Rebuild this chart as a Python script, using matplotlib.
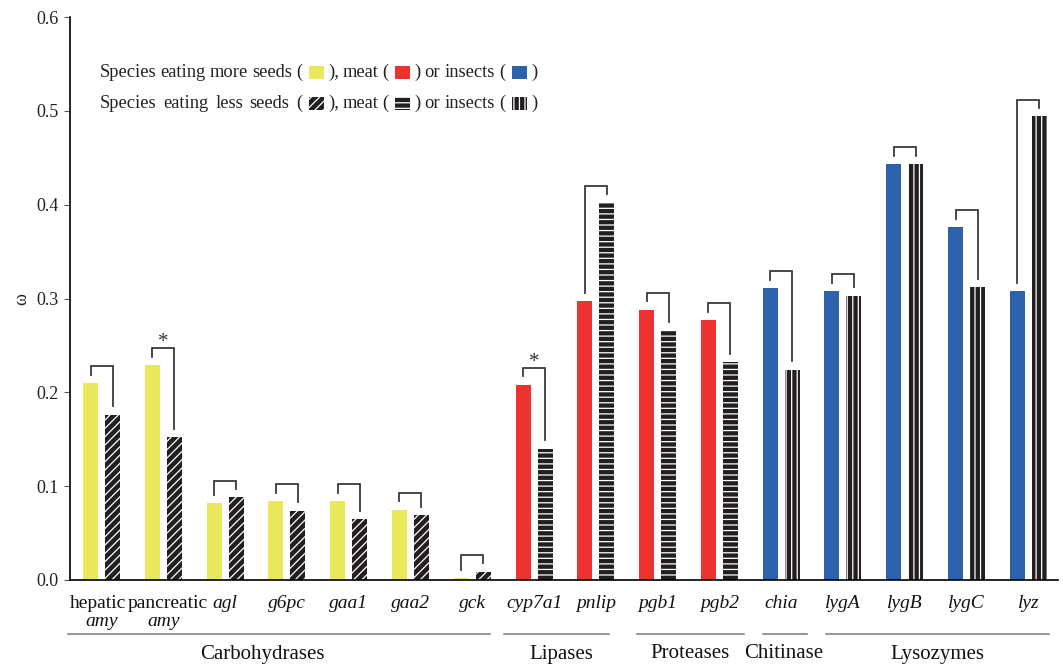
import matplotlib
matplotlib.use("Agg")
import matplotlib.pyplot as plt
from matplotlib.patches import Rectangle
import numpy as np

plt.rcParams['font.family'] = ['Liberation Serif', 'DejaVu Serif']
plt.rcParams['hatch.linewidth'] = 0.9

# ---------------- data ----------------
genes = ['hepatic amy', 'pancreatic amy', 'agl', 'g6pc', 'gaa1', 'gaa2', 'gck',
         'cyp7a1', 'pnlip', 'pgb1', 'pgb2', 'chia', 'lygA', 'lygB', 'lygC', 'lyz']
diet = ['seeds'] * 7 + ['meat'] * 4 + ['insects'] * 5
more_vals = [0.210, 0.229, 0.082, 0.084, 0.084, 0.075, 0.002,
             0.208, 0.297, 0.288, 0.277,
             0.311, 0.308, 0.443, 0.376, 0.308]
less_vals = [0.176, 0.152, 0.088, 0.074, 0.065, 0.069, 0.009,
             0.140, 0.402, 0.266, 0.232,
             0.224, 0.303, 0.443, 0.312, 0.494]
significant = [False, True, False, False, False, False, False,
               True, False, False, False,
               False, False, False, False, False]
enzyme_groups = ['Carbohydrases', 'Lipases', 'Proteases', 'Chitinase', 'Lysozymes']
y_ticks = [0.0, 0.1, 0.2, 0.3, 0.4, 0.5, 0.6]
y_label = 'ω'
legend_more = ['Species eating more seeds (', '), meat (', ') or insects (', ')']
legend_less = ['Species eating less seeds (', '), meat (', ') or insects (', ')']

# ---------------- style ----------------
diet_color = {'seeds': '#E8E85A', 'meat': '#EE3131', 'insects': '#2C62AC'}
diet_hatch = {'seeds': '////', 'meat': '---', 'insects': '|||'}
dark = '#231F20'
bracket_color = '#3a3a3a'

W, H = 1063, 664
fig = plt.figure(figsize=(W / 100, H / 100), dpi=100)
ax = fig.add_axes([70 / W, 1 - 580 / H, 988 / W, 563 / H])

x = np.arange(len(genes))
off, bw = 0.178, 0.243
for i in range(len(genes)):
    d = diet[i]
    ax.bar(x[i] - off, more_vals[i], width=bw, color=diet_color[d], linewidth=0)
    ax.bar(x[i] + off, less_vals[i], width=bw, color=dark, hatch=diet_hatch[d],
           edgecolor='white', linewidth=0)
    top = max(more_vals[i], less_vals[i]) + 0.018
    ax.plot([x[i] - off, x[i] - off, x[i] + off, x[i] + off],
            [more_vals[i] + 0.009, top, top, less_vals[i] + 0.009],
            color=bracket_color, lw=1.3, solid_joinstyle='miter')
    if significant[i]:
        ax.text(x[i], top + 0.001, '*', ha='center', va='baseline',
                fontsize=15, color='#333333')

ax.set_xlim(-0.51, 15.48)
ax.set_ylim(0, 0.6)
ax.set_yticks(y_ticks)
ax.set_yticklabels([f'{v:.1f}' for v in y_ticks], fontsize=13, color='#222222')
ax.tick_params(axis='y', length=4, width=0.8, color='#555555', pad=4)
ax.set_xticks([])
for s in ['top', 'right']:
    ax.spines[s].set_visible(False)
for s in ['left', 'bottom']:
    ax.spines[s].set_linewidth(1.2)
    ax.spines[s].set_color('black')

fig.text(22 / W, 1 - 299 / H, y_label, rotation=90, ha='center', va='center',
         fontsize=13, color='#222222')

# gene labels
xt = ax.get_xaxis_transform()
ypx = lambda p: (580 - p) / 563.0
for i, g in enumerate(genes):
    if ' ' in g:
        w1, w2 = g.split(' ')
        dx = 0.07 if i == 1 else -0.06
        ax.text(x[i] + dx, ypx(604), w1, transform=xt, ha='center', va='center',
                fontsize=14, color='#111111', clip_on=False)
        ax.text(x[i], ypx(622), w2, transform=xt, ha='center', va='center',
                fontsize=14, style='italic', color='#111111', clip_on=False)
    else:
        ax.text(x[i], ypx(604), g, transform=xt, ha='center', va='center',
                fontsize=14, style='italic', color='#111111', clip_on=False)

# enzyme group lines and labels (pixel layout)
line_spans_px = [(68, 490), (504, 609), (637, 744), (763, 807), (826, 1049)]
label_centers_px = [262, 561, 690, 784, 938]
px2data = lambda p: (p - 101.5) / 61.8
for name, (a, b), c in zip(enzyme_groups, line_spans_px, label_centers_px):
    ax.plot([px2data(a), px2data(b)], [ypx(634)] * 2, transform=xt,
            color='#777777', lw=1.1, clip_on=False)
    ax.text(px2data(c), ypx(654), name, transform=xt, ha='center', va='center',
            fontsize=15, color='#111111', clip_on=False)

# custom inline legend (justified text segments between fixed swatches)
renderer = fig.canvas.get_renderer()
seg_spans_px = [(100, 302), (328, 388), (414, 505), (531, None)]
swatch_x_px = [309, 395, 512]


def put_segment(text, x0, x1, base):
    words = text.split(' ')
    arts = [fig.text(0, 1 - base / H, w, fontsize=13.3, color='#222222',
                     ha='left', va='baseline') for w in words]
    widths = [a.get_window_extent(renderer).width for a in arts]
    if x1 is None or len(words) == 1:
        gap = 3.3
    else:
        gap = (x1 - x0 - sum(widths)) / (len(words) - 1)
    xx = x0
    for a, w in zip(arts, widths):
        a.set_x(xx / W)
        xx += w + gap


def legend_line(base, texts, swatches):
    for t, (a, b) in zip(texts, seg_spans_px):
        put_segment(t, a, b, base)
    for sx, (fc, hatch) in zip(swatch_x_px, swatches):
        r = Rectangle((sx / W, 1 - (base + 2) / H), 15 / W, 13 / H,
                      transform=fig.transFigure, facecolor=fc, hatch=hatch,
                      edgecolor='white', linewidth=0)
        fig.patches.append(r)


legend_line(77, legend_more, [(diet_color[k], None) for k in ['seeds', 'meat', 'insects']])
legend_line(108, legend_less, [(dark, diet_hatch[k]) for k in ['seeds', 'meat', 'insects']])

fig.savefig('out.png', dpi=100)
